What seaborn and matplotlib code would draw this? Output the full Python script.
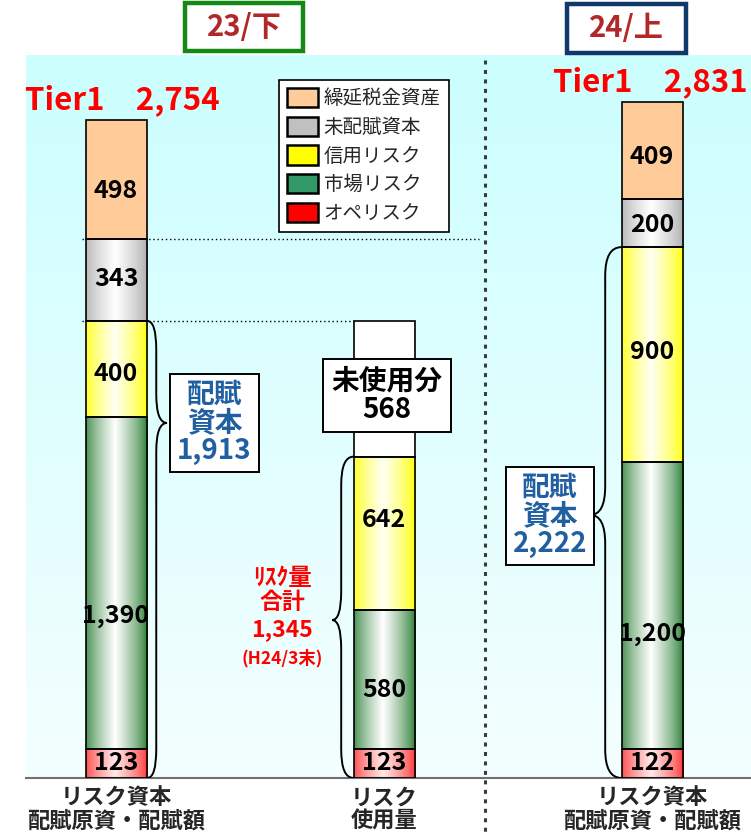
import numpy as np
import pandas as pd
import matplotlib
matplotlib.use("Agg")
import matplotlib.pyplot as plt
import seaborn as sns
from matplotlib.path import Path
from matplotlib.patches import PathPatch, Rectangle, Patch
from matplotlib.colors import to_rgb

# --- data ---
bar_keys = ["23下_配賦", "23下_使用量", "24上_配賦"]
tick_labels = ["リスク資本\n配賦原資・配賦額", "リスク\n使用量", "リスク資本\n配賦原資・配賦額"]
layers = ["オペリスク", "市場リスク", "信用リスク", "未配賦資本", "繰延税金資産", "未使用分"]
ope = [123, 123, 122]
market = [1390, 580, 1200]
credit = [400, 642, 900]
unalloc = [343, 0, 200]
dta = [498, 0, 409]
unused = [0, 568, 0]
tier1 = [2754, 2831]
allocated = [1913, 2222]
risk_total = 1345
periods = ["23/下", "24/上"]

df = pd.DataFrame({"key": bar_keys, "オペリスク": ope, "市場リスク": market, "信用リスク": credit,
                   "未配賦資本": unalloc, "繰延税金資産": dta, "未使用分": unused})

# (edge colour, centre colour) for the cylinder shading, None = flat
shade = {"オペリスク": ("#ff3030", "#ffe8e8"), "市場リスク": ("#237a2e", "#ffffff"),
         "信用リスク": ("#ffff00", "#fffff4"), "未配賦資本": ("#aaaaaa", "#ffffff"),
         "繰延税金資産": None, "未使用分": None}
flat = {"繰延税金資産": "#ffcc99", "未使用分": "#ffffff"}
legend_colors = {"繰延税金資産": "#ffcc99", "未配賦資本": "#c0c0c0", "信用リスク": "#ffff00",
                 "市場リスク": "#339966", "オペリスク": "#ff0000"}
# where each value label sits inside its segment (fraction of the segment height)
label_frac = {"オペリスク": [0.5, 0.5, 0.5], "市場リスク": [0.40, 0.42, 0.40],
              "信用リスク": [0.44, 0.59, 0.51], "未配賦資本": [0.51, 0.5, 0.46],
              "繰延税金資産": [0.40, 0.5, 0.43]}

sns.set_theme(style="white")
plt.rcParams["font.family"] = ["Noto Sans CJK JP", "DejaVu Sans"]
plt.rcParams["font.weight"] = "bold"

fig = plt.figure(figsize=(7.51, 8.33), dpi=100)
ax = fig.add_axes([26 / 751, 1 - 778 / 833, 1 - 26 / 751, (778 - 55) / 833])

xmin, xmax, ymax = -0.336, 2.369, 3026
bar_w = 0.228

# background gradient
grad = np.linspace(0, 1, 256)[:, None]
top, bot = np.array(to_rgb("#ccffff")), np.array(to_rgb("#f4fefe"))
bg = (top[None, None, :] * (1 - grad[:, :, None]) + bot[None, None, :] * grad[:, :, None])
ax.imshow(bg, extent=(xmin, xmax, 0, ymax), aspect="auto", zorder=0, origin="upper")

bottom = np.zeros(len(bar_keys))
for layer in layers:
    n0 = len(ax.patches)
    sns.barplot(data=df, x="key", y=layer, order=bar_keys, bottom=bottom, width=bar_w,
                color=flat.get(layer, shade[layer][0] if shade[layer] else "white"), saturation=1,
                edgecolor="none", errorbar=None, ax=ax, zorder=2)
    for i, p in enumerate(ax.patches[n0:]):
        x0, y0, w, h = p.get_x(), p.get_y(), p.get_width(), p.get_height()
        if h <= 0:
            continue
        if shade[layer] is not None:
            t = np.linspace(0, 1, 80)
            wt = np.clip(1 - np.abs(t - 0.47) / 0.53, 0, 1) ** 0.75
            b, c = np.array(to_rgb(shade[layer][0])), np.array(to_rgb(shade[layer][1]))
            row = b[None, :] * (1 - wt[:, None]) + c[None, :] * wt[:, None]
            ax.imshow(row[None, :, :], extent=(x0, x0 + w, y0, y0 + h), aspect="auto",
                      zorder=2.1, interpolation="bilinear")
        ax.add_patch(Rectangle((x0, y0), w, h, fill=False, ec="black", lw=1.2, zorder=3))
        if layer != "未使用分":
            ax.text(x0 + w / 2, y0 + h * label_frac[layer][i], f"{int(h):,}", ha="center",
                    va="center", fontsize=18, fontweight="bold", color="black", zorder=5)
    bottom = bottom + df[layer].to_numpy()

# dotted guide lines
ax.hlines(bottom[0] - dta[0], -0.127, 1.355, colors="black", linestyles=(0, (1, 2)), lw=1, zorder=1)
ax.hlines(allocated[0], -0.127, 0.89, colors="black", linestyles=(0, (1, 2)), lw=1, zorder=1)


def brace(x_edge, x_line, x_tip, y_top, y_bot, y_tip, r=120):
    verts = [(x_edge, y_top), (x_line, y_top), (x_line, y_top - r), (x_line, y_tip + r),
             (x_line, y_tip), (x_tip, y_tip), (x_line, y_tip), (x_line, y_tip - r),
             (x_line, y_bot + r), (x_line, y_bot), (x_edge, y_bot)]
    codes = [Path.MOVETO, Path.CURVE3, Path.CURVE3, Path.LINETO, Path.CURVE3, Path.CURVE3,
             Path.CURVE3, Path.CURVE3, Path.LINETO, Path.CURVE3, Path.CURVE3]
    ax.add_patch(PathPatch(Path(verts, codes), fill=False, ec="black", lw=1.4, zorder=4))


brace(0.116, 0.150, 0.190, allocated[0], 0, 1486)
brace(0.886, 0.840, 0.806, risk_total, 0, 661)
brace(1.886, 1.825, 1.769, allocated[1], 0, 1101)

blue = "#2060a0"
box = dict(boxstyle="square,pad=0.25", fc="white", ec="black", lw=1.4)
ax.text(0.367, 1486, f"配賦\n資本\n{allocated[0]:,}", ha="center", va="center", fontsize=20,
        color=blue, linespacing=1.0, bbox=box, zorder=6)
ax.text(1.619, 1097, f"配賦\n資本\n{allocated[1]:,}", ha="center", va="center", fontsize=20,
        color=blue, linespacing=1.0, bbox=box, zorder=6)
ax.text(1.01, 1600, f"未使用分\n{unused[1]}", ha="center", va="center", fontsize=20,
        color="black", linespacing=1.0, bbox=dict(boxstyle="square,pad=0.3", fc="white",
                                                   ec="black", lw=1.4), zorder=6)

red = "#ff0000"
ax.text(0.62, 837, "ﾘｽｸ量", ha="center", va="center", fontsize=17, color=red, zorder=6)
ax.text(0.62, 733, "合計", ha="center", va="center", fontsize=16.5, color=red, zorder=6)
ax.text(0.62, 620, f"{risk_total:,}", ha="center", va="center", fontsize=16.5, color=red, zorder=6)
ax.text(0.62, 502, "(H24/3末)", ha="center", va="center", fontsize=12.5, color=red, zorder=6)

ax.text(0.022, 2838, f"Tier1　{tier1[0]:,}", ha="center", va="center", fontsize=22.5, color=red, zorder=6)
ax.text(1.993, 2913, f"Tier1　{tier1[1]:,}", ha="center", va="center", fontsize=22.5, color=red, zorder=6)

# legend
handles = [Patch(facecolor=legend_colors[k], edgecolor="black", lw=1.8, label=k)
           for k in ["繰延税金資産", "未配賦資本", "信用リスク", "市場リスク", "オペリスク"]]
leg = ax.legend(handles=handles, loc="upper left", bbox_to_anchor=(0.349, 0.965), borderaxespad=0,
                frameon=True, fancybox=False, handlelength=1.6, handleheight=1.15,
                labelspacing=0.38, handletextpad=0.3, borderpad=0.4, prop={"weight": "normal", "size": 14})
leg.get_frame().set_edgecolor("black")
leg.get_frame().set_linewidth(1.2)
leg.get_frame().set_facecolor("white")
leg.get_frame().set_alpha(1)
leg.set_zorder(7)

# vertical separator
ax.plot([1.377, 1.377], [0.993, -0.08], transform=ax.get_xaxis_transform(), color="#3a3a3a",
        lw=2.2, linestyle=(0, (1.3, 1.8)), clip_on=False, zorder=8)

# period headers
for (x0, y0, w, h), label, ec in zip([(185, 3, 118, 48), (567, 4, 119, 49)], periods, ["#148a14", "#10386a"]):
    fig.add_artist(Rectangle((x0 / 751, 1 - (y0 + h) / 833), w / 751, h / 833, transform=fig.transFigure,
                             fill=True, fc="white", ec=ec, lw=3.2))
    fig.text((x0 + w / 2) / 751, 1 - (y0 + h / 2) / 833, label, ha="center", va="center", fontsize=21,
             color="#b02828")

ax.set_xlim(xmin, xmax)
ax.set_ylim(0, ymax)
ax.set_xticks(range(len(bar_keys)))
ax.set_xticklabels(tick_labels, fontsize=16, fontweight="bold", linespacing=1.0)
ax.tick_params(axis="x", length=0, pad=6)
ax.set_yticks([])
ax.set_xlabel("")
ax.set_ylabel("")
for s in ["top", "left", "right"]:
    ax.spines[s].set_visible(False)
ax.spines["bottom"].set_color("#707070")
ax.spines["bottom"].set_linewidth(1.5)

fig.savefig("out.png", dpi=100)
